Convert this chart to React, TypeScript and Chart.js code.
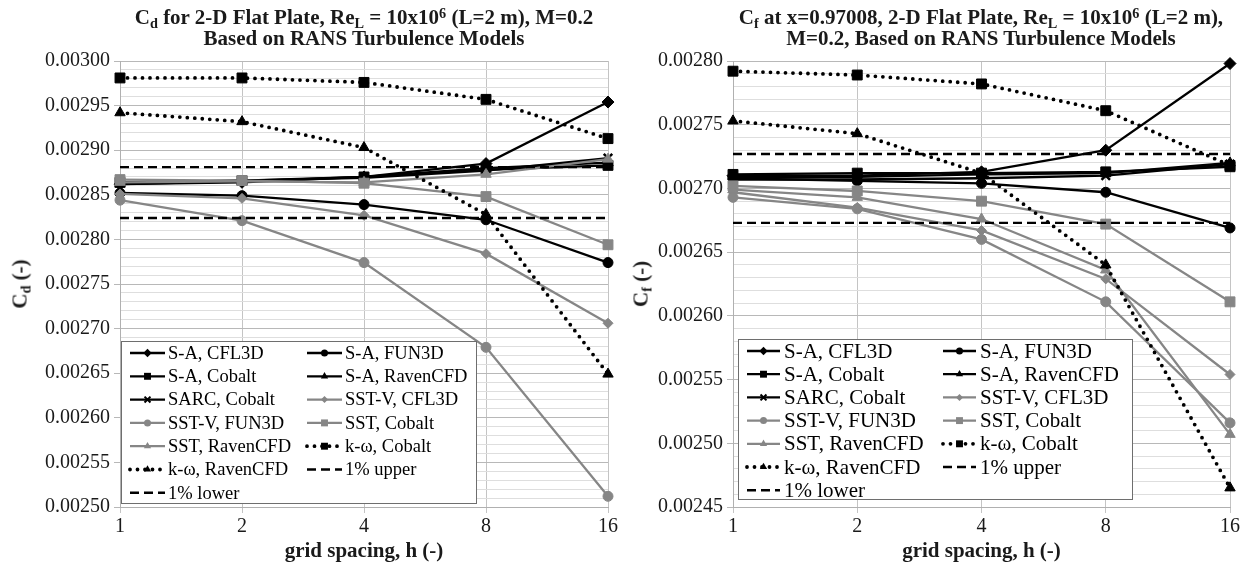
import React, { useEffect, useRef } from 'react';
import { Chart, registerables } from 'chart.js';

Chart.register(...registerables);

// ---------- data ----------
const gridSpacing = ['1', '2', '4', '8', '16'];

const seriesNames = [
  'S-A, CFL3D', 'S-A, FUN3D', 'S-A, Cobalt', 'S-A, RavenCFD', 'SARC, Cobalt',
  'SST-V, CFL3D', 'SST-V, FUN3D', 'SST, Cobalt', 'SST, RavenCFD',
  'k-ω, Cobalt', 'k-ω, RavenCFD', '1% upper', '1% lower',
];

// Cd (left chart)
const cdSA_CFL3D = [0.002862, 0.002864, 0.002870, 0.002885, 0.002954];
const cdSA_FUN3D = [0.002852, 0.002849, 0.002839, 0.002822, 0.002774];
const cdSA_Cobalt = [0.002864, 0.002866, 0.002870, 0.002878, 0.002883];
const cdSA_Raven = [0.002862, 0.002865, 0.002870, 0.002880, 0.002886];
const cdSARC_Cobalt = [0.002864, 0.002866, 0.002869, 0.002877, 0.002891];
const cdSSTV_CFL3D = [0.002851, 0.002846, 0.002827, 0.002784, 0.002706];
const cdSSTV_FUN3D = [0.002844, 0.002821, 0.002774, 0.002679, 0.002512];
const cdSST_Cobalt = [0.002867, 0.002866, 0.002863, 0.002848, 0.002794];
const cdSST_Raven = [0.002864, 0.002865, 0.002864, 0.002873, 0.002890];
const cdKW_Cobalt = [0.002981, 0.002981, 0.002976, 0.002957, 0.002913];
const cdKW_Raven = [0.002942, 0.002932, 0.002903, 0.002828, 0.002649];
const cdUpper = [0.002881, 0.002881, 0.002881, 0.002881, 0.002881];
const cdLower = [0.002824, 0.002824, 0.002824, 0.002824, 0.002824];

// Cf (right chart)
const cfSA_CFL3D = [0.002710, 0.002710, 0.002713, 0.002730, 0.002798];
const cfSA_FUN3D = [0.002708, 0.002706, 0.002704, 0.002697, 0.002669];
const cfSA_Cobalt = [0.002711, 0.002712, 0.002712, 0.002713, 0.002717];
const cfSA_Raven = [0.002709, 0.002709, 0.002711, 0.002712, 0.002720];
const cfSARC_Cobalt = [0.002707, 0.002707, 0.002708, 0.002710, 0.002719];
const cfSSTV_CFL3D = [0.002697, 0.002685, 0.002667, 0.002629, 0.002554];
const cfSSTV_FUN3D = [0.002693, 0.002684, 0.002660, 0.002611, 0.002516];
const cfSST_Cobalt = [0.002702, 0.002698, 0.002690, 0.002672, 0.002611];
const cfSST_Raven = [0.002699, 0.002693, 0.002676, 0.002636, 0.002507];
const cfKW_Cobalt = [0.002792, 0.002789, 0.002782, 0.002761, 0.002718];
const cfKW_Raven = [0.002753, 0.002743, 0.002712, 0.002640, 0.002465];
const cfUpper = [0.002727, 0.002727, 0.002727, 0.002727, 0.002727];
const cfLower = [0.002673, 0.002673, 0.002673, 0.002673, 0.002673];

const cdSeries = [cdSA_CFL3D, cdSA_FUN3D, cdSA_Cobalt, cdSA_Raven, cdSARC_Cobalt, cdSSTV_CFL3D, cdSSTV_FUN3D, cdSST_Cobalt, cdSST_Raven, cdKW_Cobalt, cdKW_Raven, cdUpper, cdLower];
const cfSeries = [cfSA_CFL3D, cfSA_FUN3D, cfSA_Cobalt, cfSA_Raven, cfSARC_Cobalt, cfSSTV_CFL3D, cfSSTV_FUN3D, cfSST_Cobalt, cfSST_Raven, cfKW_Cobalt, cfKW_Raven, cfUpper, cfLower];

// ---------- styles ----------
const BLACK = '#000000';
const GRAY = '#868686';
type Sty = { color: string; line: 'solid' | 'dot' | 'dash'; marker: string | false; r: number };
const styles: Sty[] = [
  { color: BLACK, line: 'solid', marker: 'rectRot', r: 6 },
  { color: BLACK, line: 'solid', marker: 'circle', r: 5 },
  { color: BLACK, line: 'solid', marker: 'rect', r: 7 },
  { color: BLACK, line: 'solid', marker: 'triangle', r: 6 },
  { color: BLACK, line: 'solid', marker: 'crossRot', r: 6 },
  { color: GRAY, line: 'solid', marker: 'rectRot', r: 5 },
  { color: GRAY, line: 'solid', marker: 'circle', r: 5 },
  { color: GRAY, line: 'solid', marker: 'rect', r: 7 },
  { color: GRAY, line: 'solid', marker: 'triangle', r: 6 },
  { color: BLACK, line: 'dot', marker: 'rect', r: 7 },
  { color: BLACK, line: 'dot', marker: 'triangle', r: 6 },
  { color: BLACK, line: 'dash', marker: false, r: 0 },
  { color: BLACK, line: 'dash', marker: false, r: 0 },
];

const FONT = '"Liberation Serif", "Times New Roman", serif';

function drawMarker(ctx: CanvasRenderingContext2D, style: string | false, x: number, y: number, r: number, color: string) {
  if (!style) return;
  ctx.save();
  ctx.fillStyle = color;
  ctx.strokeStyle = color;
  ctx.lineWidth = 2;
  ctx.beginPath();
  if (style === 'circle') {
    ctx.arc(x, y, r, 0, Math.PI * 2);
    ctx.fill();
  } else if (style === 'rect') {
    const s = r * Math.SQRT1_2;
    ctx.rect(x - s, y - s, 2 * s, 2 * s);
    ctx.fill();
  } else if (style === 'rectRot') {
    ctx.moveTo(x - r, y); ctx.lineTo(x, y - r); ctx.lineTo(x + r, y); ctx.lineTo(x, y + r); ctx.closePath();
    ctx.fill();
  } else if (style === 'triangle') {
    ctx.moveTo(x, y - r);
    ctx.lineTo(x + r * Math.sin(2 * Math.PI / 3), y - r * Math.cos(2 * Math.PI / 3));
    ctx.lineTo(x + r * Math.sin(4 * Math.PI / 3), y - r * Math.cos(4 * Math.PI / 3));
    ctx.closePath();
    ctx.fill();
  } else if (style === 'crossRot') {
    const d = r * Math.SQRT1_2;
    ctx.moveTo(x - d, y - d); ctx.lineTo(x + d, y + d);
    ctx.moveTo(x + d, y - d); ctx.lineTo(x - d, y + d);
    ctx.stroke();
  }
  ctx.restore();
}

const boxLegend = {
  id: 'boxLegend',
  afterDraw(chart: any, _args: any, opts: any) {
    if (!opts || !opts.enabled) return;
    const ctx: CanvasRenderingContext2D = chart.ctx;
    const { x, y, w, h, colW, rowH, fontSize, lineLen, textGap, padX, padY, mScale } = opts;
    ctx.save();
    ctx.fillStyle = '#ffffff';
    ctx.fillRect(x, y, w, h);
    ctx.strokeStyle = '#6e6e6e';
    ctx.lineWidth = 1;
    ctx.strokeRect(x + 0.5, y + 0.5, w, h);
    chart.data.datasets.forEach((ds: any, i: number) => {
      const st = styles[i];
      const col = i % 2;
      const row = Math.floor(i / 2);
      const lx = x + padX + col * colW;
      const cy = y + padY + row * rowH;
      ctx.save();
      ctx.strokeStyle = ds.borderColor;
      ctx.lineWidth = ds.borderWidth;
      ctx.setLineDash(ds.borderDash || []);
      ctx.lineCap = ds.borderCapStyle || 'butt';
      ctx.beginPath();
      ctx.moveTo(lx, cy);
      ctx.lineTo(lx + lineLen, cy);
      ctx.stroke();
      ctx.restore();
      drawMarker(ctx, st.marker, lx + lineLen / 2, cy, Math.max(3, st.r * mScale), st.color);
      ctx.fillStyle = '#000000';
      ctx.font = `${fontSize}px ${FONT}`;
      ctx.textBaseline = 'middle';
      ctx.textAlign = 'left';
      ctx.fillText(ds.label, lx + lineLen + textGap, cy + 1);
    });
    ctx.restore();
  },
};

function buildDatasets(series: number[][]) {
  return series.map((data, i) => {
    const st = styles[i];
    const ds: any = {
      label: seriesNames[i],
      data,
      borderColor: st.color,
      backgroundColor: st.color,
      pointBackgroundColor: st.color,
      pointBorderColor: st.color,
      pointStyle: st.marker === false ? false : st.marker,
      pointRadius: st.r,
      pointBorderWidth: st.marker === 'crossRot' ? 2.5 : 1,
      borderWidth: 2.3,
      tension: 0,
      fill: false,
      clip: false,
      order: series.length - i,
    };
    if (st.line === 'dot') {
      ds.borderDash = [0, 7.5];
      ds.borderCapStyle = 'round';
      ds.borderWidth = 3.8;
    } else if (st.line === 'dash') {
      ds.borderDash = [9, 5];
      ds.borderWidth = 2.4;
      ds.pointRadius = 0;
    }
    return ds;
  });
}

type PanelCfg = {
  series: number[][];
  yMin: number;
  yMax: number;
  step: number;
  yAxisWidth: number;
  padRight: number;
  tickSize: number;
  legend: any;
};

function makeConfig(p: PanelCfg): any {
  return {
    type: 'line',
    data: { labels: gridSpacing, datasets: buildDatasets(p.series) },
    plugins: [boxLegend],
    options: {
      animation: false,
      responsive: false,
      layout: { padding: { left: 0, top: 61, right: p.padRight, bottom: 0 } },
      plugins: {
        legend: { display: false },
        tooltip: { enabled: false },
        title: { display: false },
        boxLegend: p.legend,
      },
      scales: {
        x: {
          type: 'category',
          offset: false,
          grid: { color: '#c4c4c4', lineWidth: 1, tickLength: 6, tickColor: '#c4c4c4' },
          border: { color: '#b0b0b0' },
          ticks: { font: { family: FONT, size: p.tickSize }, color: '#1a1a1a', padding: 2, maxRotation: 0 },
          title: {
            display: true,
            text: 'grid spacing, h (-)',
            font: { family: FONT, size: 21, weight: 'bold' },
            color: '#1a1a1a',
            padding: { top: 0, bottom: 1 },
          },
          afterFit: (s: any) => { s.height = 58; },
        },
        y: {
          type: 'linear',
          min: p.yMin,
          max: p.yMax,
          afterBuildTicks: (s: any) => {
            const n = Math.round((p.yMax - p.yMin) / p.step);
            const t: any[] = [];
            for (let k = 0; k <= n; k++) t.push({ value: +(p.yMin + k * p.step).toFixed(7) });
            s.ticks = t;
          },
          afterFit: (s: any) => { s.width = p.yAxisWidth; },
          grid: {
            color: (c: any) => (c.index % 5 === 0 ? '#b8b8b8' : '#dedede'),
            tickColor: (c: any) => (c.index % 5 === 0 ? '#b8b8b8' : 'rgba(0,0,0,0)'),
            lineWidth: 1,
            tickLength: 6,
          },
          border: { color: '#b0b0b0' },
          ticks: {
            autoSkip: false,
            font: { family: FONT, size: p.tickSize },
            color: '#1a1a1a',
            padding: 4,
            callback: (v: any, idx: number) => (idx % 5 === 0 ? Number(v).toFixed(5) : ''),
          },
        },
      },
    },
  };
}

function ChartPanel({ cfg, width, height }: { cfg: PanelCfg; width: number; height: number }) {
  const ref = useRef<HTMLCanvasElement | null>(null);
  useEffect(() => {
    if (!ref.current) return;
    const chart = new Chart(ref.current, makeConfig(cfg));
    return () => chart.destroy();
  }, [cfg]);
  return <canvas ref={ref} width={width} height={height} style={{ display: 'block', width, height }} />;
}

const leftCfg: PanelCfg = {
  series: cdSeries,
  yMin: 0.0025,
  yMax: 0.0030,
  step: 0.00001,
  yAxisWidth: 120,
  padRight: 11,
  tickSize: 20,
  legend: {
    enabled: true, x: 121, y: 341, w: 355, h: 162,
    colW: 177, rowH: 23.3, fontSize: 18.5, lineLen: 35, textGap: 3, padX: 9, padY: 12, mScale: 0.7,
  },
};

const rightCfg: PanelCfg = {
  series: cfSeries,
  yMin: 0.00245,
  yMax: 0.0028,
  step: 0.00001,
  yAxisWidth: 113,
  padRight: 19,
  tickSize: 20,
  legend: {
    enabled: true, x: 118, y: 339, w: 394, h: 160,
    colW: 196, rowH: 23.2, fontSize: 21, lineLen: 33, textGap: 4, padX: 9, padY: 12, mScale: 0.7,
  },
};

const sub: React.CSSProperties = { fontSize: '0.68em', verticalAlign: '-0.28em', lineHeight: 0 };
const sup: React.CSSProperties = { fontSize: '0.68em', verticalAlign: '0.45em', lineHeight: 0 };

const titleStyle: React.CSSProperties = {
  position: 'absolute',
  top: 7,
  textAlign: 'center',
  fontFamily: FONT,
  fontWeight: 'bold',
  fontSize: 21,
  lineHeight: '21px',
  color: '#1a1a1a',
  whiteSpace: 'nowrap',
};

const yTitleStyle: React.CSSProperties = {
  position: 'absolute',
  top: 284,
  transform: 'translate(-50%, -50%) rotate(-90deg)',
  fontFamily: FONT,
  fontWeight: 'bold',
  fontSize: 21,
  color: '#1a1a1a',
  whiteSpace: 'nowrap',
};

export default function App() {
  return (
    <div style={{ position: 'absolute', left: 0, top: 0, width: 1249, height: 565, background: '#fff', overflow: 'hidden' }}>
      <div style={{ position: 'absolute', left: 0, top: 0 }}>
        <ChartPanel cfg={leftCfg} width={620} height={565} />
      </div>
      <div style={{ position: 'absolute', left: 620, top: 0 }}>
        <ChartPanel cfg={rightCfg} width={629} height={565} />
      </div>
      <div style={{ ...titleStyle, left: 64, width: 600 }}>
        C<span style={sub}>d</span> for 2-D Flat Plate, Re<span style={sub}>L</span> = 10x10<span style={sup}>6</span> (L=2 m), M=0.2
        <br />
        Based on RANS Turbulence Models
      </div>
      <div style={{ ...titleStyle, left: 681, width: 600 }}>
        C<span style={sub}>f</span> at x=0.97008, 2-D Flat Plate, Re<span style={sub}>L</span> = 10x10<span style={sup}>6</span> (L=2 m),
        <br />
        M=0.2, Based on RANS Turbulence Models
      </div>
      <div style={{ ...yTitleStyle, left: 20 }}>
        C<span style={sub}>d</span> (-)
      </div>
      <div style={{ ...yTitleStyle, left: 641 }}>
        C<span style={sub}>f</span> (-)
      </div>
    </div>
  );
}
